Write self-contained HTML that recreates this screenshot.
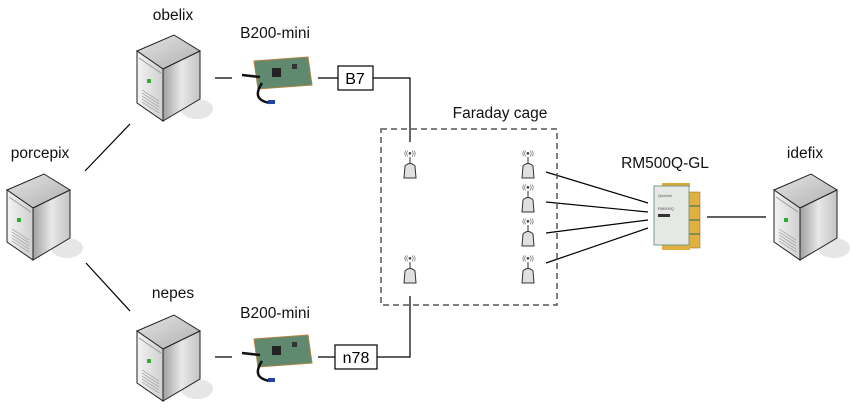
<!DOCTYPE html>
<html><head><meta charset="utf-8"><style>
html,body{margin:0;padding:0;background:#fff;}
svg{display:block;font-family:"Liberation Sans",sans-serif;}
</style></head><body>
<svg width="852" height="408" viewBox="0 0 852 408" xmlns="http://www.w3.org/2000/svg">
<defs>
<linearGradient id="lf" x1="0" y1="0" x2="1" y2="0"><stop offset="0" stop-color="#f4f4f4"/><stop offset="1" stop-color="#cfcfcf"/></linearGradient>
<linearGradient id="rf" x1="0" y1="0" x2="1" y2="0"><stop offset="0" stop-color="#a0a0a0"/><stop offset="0.5" stop-color="#e8e8e8"/><stop offset="1" stop-color="#c4c4c4"/></linearGradient>
<linearGradient id="tf" x1="0" y1="0" x2="1" y2="1"><stop offset="0" stop-color="#e4e4e4"/><stop offset="1" stop-color="#b0b0b0"/></linearGradient>
<g id="srv">
<ellipse cx="60" cy="74" rx="16" ry="10" fill="#e6e6e6"/>
<polygon points="0,16 37,0 63,16 26,34" fill="url(#tf)" stroke="#222" stroke-width="1"/>
<polygon points="0,16 26,34 26,86 0,68" fill="url(#lf)" stroke="#222" stroke-width="1"/>
<polygon points="26,34 63,16 63,64 26,86" fill="url(#rf)" stroke="#222" stroke-width="1"/>
<line x1="2" y1="23" x2="24" y2="38" stroke="#999"/>
<rect x="10" y="44" width="4" height="4" fill="#3a3"/>
<g stroke="#999" stroke-width="0.7"><line x1="5" y1="55" x2="22" y2="66"/><line x1="5" y1="58" x2="22" y2="69"/><line x1="5" y1="61" x2="22" y2="72"/><line x1="5" y1="64" x2="22" y2="75"/><line x1="5" y1="67" x2="22" y2="78"/></g>
</g>
<g id="b200">
<polygon points="14,6 68,2 72,30 18,34" fill="#5f8a70" stroke="#b08040"/>
<rect x="32" y="13" width="9" height="9" fill="#222"/>
<rect x="52" y="9" width="5" height="5" fill="#333"/>
<path d="M2,20 L20,22 M22,28 C14,40 18,46 30,48" stroke="#111" stroke-width="2.5" fill="none"/>
<rect x="28" y="45" width="7" height="4" fill="#2244aa"/>
</g>
<g id="ant">
<text x="0" y="0" font-size="6" text-anchor="middle" fill="#333">((●))</text>
<line x1="0" y1="2" x2="0" y2="8" stroke="#333"/>
<path d="M-6,23 L-5,11 Q0,6 5,11 L6,23 Z" fill="#e0e0e0" stroke="#333"/>
</g>
</defs>

<use href="#srv" x="137" y="35"/>
<use href="#srv" x="7" y="174"/>
<use href="#srv" x="137" y="315"/>
<use href="#srv" x="774" y="174"/>

<g font-size="15.5" fill="#111" text-anchor="middle">
<text x="173" y="20">obelix</text>
<text x="40" y="158">porcepix</text>
<text x="173" y="298">nepes</text>
<text x="805" y="158">idefix</text>
<text x="275" y="38">B200-mini</text>
<text x="275" y="318">B200-mini</text>
<text x="665" y="168">RM500Q-GL</text>
<text x="500" y="118">Faraday cage</text>
</g>

<g stroke="#000" stroke-width="1.2" fill="none">
<line x1="85" y1="171" x2="130" y2="124"/>
<line x1="86" y1="263" x2="130" y2="311"/>
<line x1="215" y1="78" x2="232" y2="78"/>
<line x1="318" y1="78" x2="338" y2="78"/>
<polyline points="373,78 410,78 410,142"/>
<line x1="215" y1="357" x2="232" y2="357"/>
<line x1="318" y1="357" x2="335" y2="357"/>
<polyline points="377,357 410,357 410,296"/>
<line x1="546" y1="172" x2="648" y2="203"/>
<line x1="546" y1="202" x2="648" y2="212"/>
<line x1="546" y1="233" x2="648" y2="220"/>
<line x1="546" y1="263" x2="648" y2="228"/>
<line x1="707" y1="217" x2="766" y2="217"/>
</g>

<rect x="381" y="129" width="176" height="176" fill="none" stroke="#555" stroke-width="1.5" stroke-dasharray="6,4"/>

<rect x="338" y="66" width="35" height="24" fill="#fff" stroke="#000" stroke-width="1.2"/>
<text x="355" y="84" font-size="16" text-anchor="middle">B7</text>
<rect x="335" y="345" width="42" height="24" fill="#fff" stroke="#000" stroke-width="1.2"/>
<text x="356" y="363" font-size="16" text-anchor="middle">n78</text>

<use href="#b200" x="240" y="55"/>
<use href="#b200" x="240" y="333"/>

<use href="#ant" x="410" y="155"/>
<use href="#ant" x="410" y="260"/>
<use href="#ant" x="528" y="155"/>
<use href="#ant" x="528" y="189"/>
<use href="#ant" x="528" y="223"/>
<use href="#ant" x="528" y="260"/>

<g>
<rect x="662" y="183" width="28" height="4" fill="#d9a93a"/>
<rect x="688" y="192" width="12" height="56" fill="#e0b040" stroke="#8a6a20" stroke-width="0.5"/>
<line x1="688" y1="206" x2="700" y2="206" stroke="#2a6a4a"/><line x1="688" y1="220" x2="700" y2="220" stroke="#2a6a4a"/><line x1="688" y1="234" x2="700" y2="234" stroke="#2a6a4a"/>
<rect x="662" y="240" width="28" height="10" fill="#e0b040"/>
<rect x="654" y="186" width="35" height="59" fill="#e6e8e6" stroke="#7a9a8a" stroke-width="1"/>
<text x="658" y="197" font-size="4" fill="#555">Quectel</text>
<text x="658" y="210" font-size="4" fill="#555">RM500Q</text>
<rect x="658" y="214" width="12" height="3" fill="#333"/>
</g>
</svg>
</body></html>
